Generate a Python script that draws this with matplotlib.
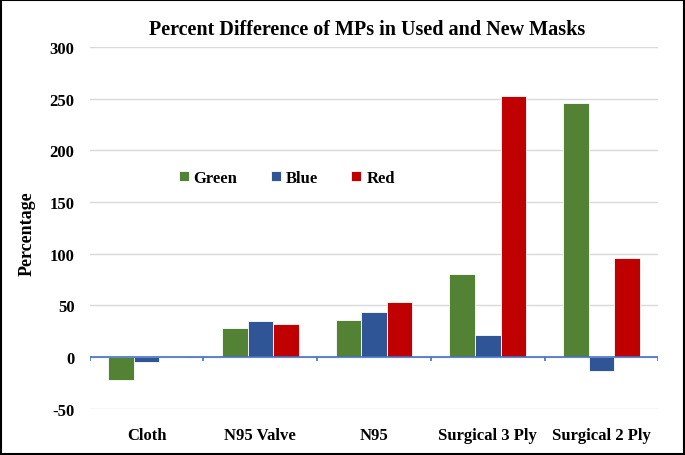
import matplotlib
matplotlib.use("Agg")
import matplotlib.pyplot as plt
import numpy as np

categories = ["Cloth", "N95 Valve", "N95", "Surgical 3 Ply", "Surgical 2 Ply"]
green = [-22, 28, 36, 80, 246]
blue = [-5, 35, 44, 21, -13]
red = [0, 32, 53, 253, 96]
series = [("Green", green, "#548235"), ("Blue", blue, "#2F5597"), ("Red", red, "#C00000")]
yticks = [-50, 0, 50, 100, 150, 200, 250, 300]

plt.rcParams['font.family'] = ['Liberation Serif', 'DejaVu Serif']
fig = plt.figure(figsize=(6.85, 4.56), dpi=100)
ax = fig.add_axes([0.131, 0.101, 0.830, 0.794])

x = np.arange(len(categories))
w = 0.225
for i, (name, vals, col) in enumerate(series):
    ax.bar(x + (i - 1) * w, vals, w, color=col, edgecolor="white", linewidth=0.6, label=name, zorder=3)

ax.set_xlim(-0.5, len(categories) - 0.5)
ax.set_ylim(-50, 300)
ax.set_yticks(yticks)
ax.set_yticklabels([str(v) for v in yticks], fontsize=12, fontweight="bold")
ax.yaxis.grid(True, color="#D9D9D9", linewidth=1.0, zorder=0)
ax.set_axisbelow(True)
ax.tick_params(axis="y", length=0, pad=11)
ax.set_xticks(x)
ax.set_xticklabels(categories, fontsize=12, fontweight="bold")
ax.tick_params(axis="x", length=0, pad=13)
for s in ax.spines.values():
    s.set_visible(False)

ax.axhline(0, color="#4472C4", linewidth=1.2, zorder=4)
ax.vlines(np.arange(len(categories) + 1) - 0.5, -3.5, 0, color="#4472C4", linewidth=1.2, zorder=4)

fig.text(0.040, 0.487, "Percentage", rotation=90, ha="center", va="center",
         fontsize=13, fontweight="bold")
fig.text(0.536, 0.935, "Percent Difference of MPs in Used and New Masks", ha="center", va="center",
         fontsize=14.5, fontweight="bold")

leg = ax.legend(loc="center left", bbox_to_anchor=(0.13, 0.638), ncol=3, frameon=False,
                prop={"weight": "bold", "size": 12}, handlelength=0.6, handleheight=0.6,
                handletextpad=0.3, columnspacing=2.0)

fig.patches.append(plt.Rectangle((0.001, 0.002), 0.997, 0.995, transform=fig.transFigure,
                                 fill=False, edgecolor="black", linewidth=1.5))
fig.savefig("out.png", dpi=100)
